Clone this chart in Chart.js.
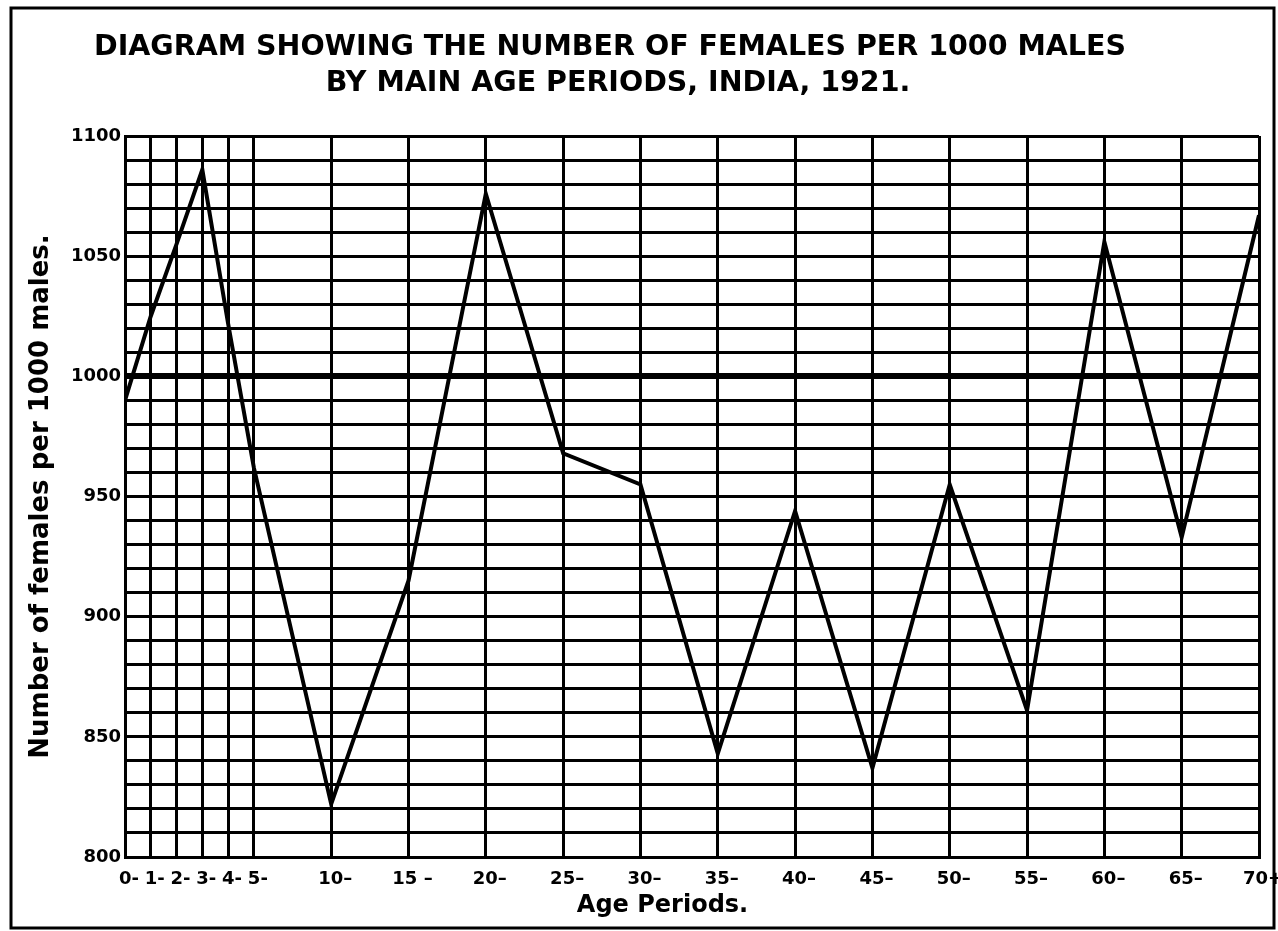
<!DOCTYPE html>
<html>
<head>
<meta charset="utf-8">
<title>Females per 1000 males, India, 1921</title>
<script src="https://cdn.jsdelivr.net/npm/chart.js@4/dist/chart.umd.min.js"></script>
<style>
    html, body { margin: 0; padding: 0; background: #fff; }
    #wrap { width: 1278px; height: 931px; }
</style>
</head>
<body>
<div id="wrap"><canvas id="myChart" width="1278" height="931"></canvas></div>
<script>
// age periods (start of each period) and how they are printed under the axis
var ageStart = [0, 1, 2, 3, 4, 5, 10, 15, 20, 25, 30, 35, 40, 45, 50, 55, 60, 65, 70];
var ageLabels = ['0-', '1-', '2-', '3-', '4-', '5-', '10–', '15 –', '20–', '25–', '30–',
                 '35–', '40–', '45–', '50–', '55–', '60–', '65–', '70+'];
// females per 1000 males in each age period
var femalesPer1000 = [990, 1025, 1055, 1086, 1022, 962, 822, 915, 1076, 968, 955,
                      843, 944, 837, 955, 861, 1056, 933, 1067];
// labelled values on the vertical scale (grid is ruled every 10)
var yLabels = [800, 850, 900, 950, 1000, 1050, 1100];

var titleLines = ['DIAGRAM SHOWING THE NUMBER OF FEMALES PER 1000 MALES',
                  'BY MAIN AGE PERIODS, INDIA, 1921.'];
var xTitle = 'Age Periods.';

// single years 0-5 get one column each, five-year groups get three columns
function agePos(age) {
    return age <= 5 ? age : 5 + (age - 5) * 3 / 5;
}

var points = ageStart.map(function (a, i) {
    return { x: agePos(a), y: femalesPer1000[i] };
});

/////////////////////////////////////////////////////////////////

// white sheet with a ruled frame, heading and the x caption
var paperFrame = {
    id: 'paperFrame',
    beforeDraw: function (chart) {
        var ctx = chart.ctx;
        ctx.save();
        ctx.fillStyle = '#fff';
        ctx.fillRect(0, 0, chart.width, chart.height);
        ctx.strokeStyle = '#000';
        ctx.lineWidth = 3;
        ctx.strokeRect(11, 8, 1263, 920);
        ctx.restore();
    },
    afterDraw: function (chart) {
        var ctx = chart.ctx;
        var area = chart.chartArea;
        ctx.save();
        ctx.fillStyle = '#000';
        ctx.textAlign = 'center';
        ctx.textBaseline = 'middle';
        ctx.font = 'bold 28.5px "DejaVu Sans"';
        ctx.fillText(titleLines[0], 610, 48);
        ctx.fillText(titleLines[1], 618, 84);
        ctx.font = 'bold 24px "DejaVu Sans"';
        ctx.fillText(xTitle, area.left + area.width * 0.474, 906);
        ctx.restore();
    }
};

var config = {
    type: 'line',
    data: {
        datasets: [{
            label: 'Females per 1000 males',
            data: points,
            borderColor: '#000',
            borderWidth: 4,
            borderJoinStyle: 'miter',
            pointRadius: 0,
            fill: false,
            tension: 0
        }]
    },
    options: {
        responsive: false,
        animation: false,
        devicePixelRatio: 1,
        layout: { padding: { left: 12, right: 19, top: 136, bottom: 8 } },
        plugins: {
            legend: { display: false },
            tooltip: { enabled: false }
        },
        scales: {
            x: {
                type: 'linear',
                min: 0,
                max: agePos(70),
                afterBuildTicks: function (scale) {
                    scale.ticks = ageStart.map(function (a) { return { value: agePos(a) }; });
                },
                afterFit: function (scale) {
                    scale.height = 66;
                    scale.paddingLeft = 0;
                    scale.paddingRight = 0;
                },
                grid: { color: '#000', lineWidth: 3, drawTicks: false },
                border: { color: '#000', width: 3 },
                ticks: {
                    autoSkip: false,
                    maxRotation: 0,
                    padding: 12,
                    labelOffset: 4,
                    color: '#000',
                    font: { family: 'DejaVu Sans', size: 18, weight: 'bold' },
                    callback: function (value, index) { return ageLabels[index]; }
                }
            },
            y: {
                min: 800,
                max: 1100,
                afterFit: function (scale) {
                    scale.width = 113;
                    scale.paddingTop = 0;
                    scale.paddingBottom = 0;
                },
                grid: {
                    color: '#000',
                    drawTicks: false,
                    lineWidth: function (c) {
                        return c.tick && Math.abs(c.tick.value - 1000) < 0.5 ? 6 : 3;
                    }
                },
                border: { color: '#000', width: 3 },
                ticks: {
                    stepSize: 10,
                    autoSkip: false,
                    padding: 4,
                    color: '#000',
                    font: { family: 'DejaVu Sans', size: 18, weight: 'bold' },
                    callback: function (value) { return yLabels.indexOf(value) >= 0 ? value : ''; }
                },
                title: {
                    display: true,
                    text: 'Number of females per 1000 males.',
                    color: '#000',
                    font: { family: 'DejaVu Sans', size: 26, weight: 'bold' },
                    padding: { top: 14, bottom: 0 }
                }
            }
        }
    },
    plugins: [paperFrame]
};

var myChart = new Chart(document.getElementById('myChart'), config);
</script>
</body>
</html>
